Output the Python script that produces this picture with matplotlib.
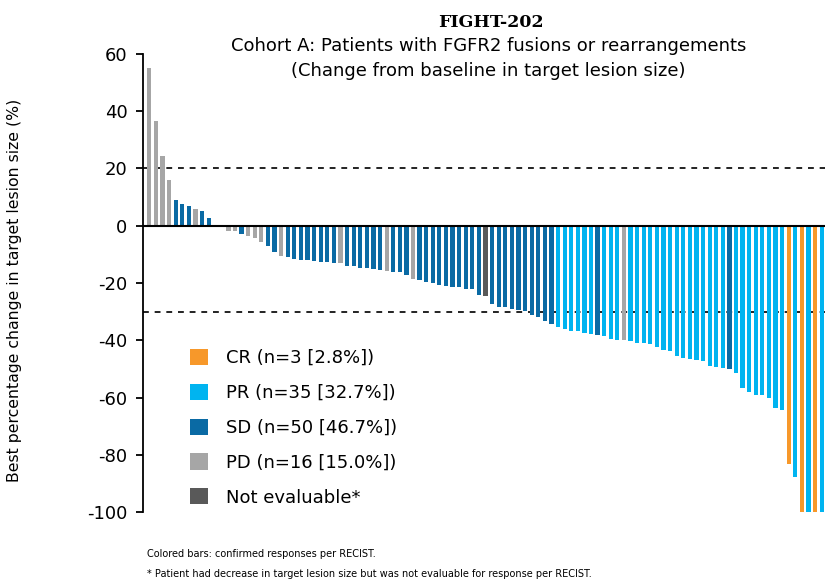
import numpy as np
import matplotlib
matplotlib.use("Agg")
import matplotlib.pyplot as plt
from matplotlib.patches import Patch

plt.rcParams["axes.unicode_minus"] = False

# best % change in target lesion size, one value per patient (sorted)
values = [55, 36.5, 24.5, 16, 9, 7.7, 7, 6, 5, 2.7,
          0, 0, -2, -2, -2.9, -3.4, -4.3, -5.5, -7.2, -9,
          -10.7, -11, -11.7, -11.8, -12, -12.4, -12.6, -12.8, -13, -13,
          -13.9, -13.9, -14.8, -14.8, -15, -15.6, -15.7, -16.2, -16.3, -17.3,
          -18.5, -19.1, -19.7, -19.9, -20.6, -21.1, -21.3, -21.5, -22, -22.2,
          -24.3, -24.6, -27.3, -28.3, -28.5, -29, -29.3, -29.9, -31.1, -31.7,
          -33.1, -34.2, -35.2, -36, -36.8, -36.9, -37.3, -37.8, -38.2, -38.5,
          -39.5, -39.8, -39.8, -40.3, -41, -41, -41.3, -42.4, -43.3, -43.6,
          -45.6, -46.2, -46.6, -47, -47.3, -48.8, -49.4, -49.7, -50.1, -51.5,
          -56.7, -57.9, -59, -59, -60.2, -63.5, -64.3, -83.3, -87.6, -100,
          -100, -100, -100]

response = ["PD", "PD", "PD", "PD", "SD", "SD", "SD", "PD", "SD", "SD",
            "SD", "SD", "PD", "PD", "SD", "PD", "PD", "PD", "SD", "SD",
            "PD", "SD", "SD", "SD", "SD", "SD", "SD", "SD", "SD", "PD",
            "SD", "SD", "SD", "SD", "SD", "SD", "PD", "SD", "SD", "SD",
            "PD", "SD", "SD", "SD", "SD", "SD", "SD", "SD", "SD", "SD",
            "SD", "NE", "SD", "SD", "SD", "SD", "SD", "SD", "SD", "SD",
            "SD", "SD", "PR", "PR", "PR", "PR", "PR", "PR", "SD", "PR",
            "PR", "PR", "PD", "PR", "PR", "PR", "PR", "PR", "PR", "PR",
            "PR", "PR", "PR", "PR", "PR", "PR", "PR", "PR", "SD", "PR",
            "PR", "PR", "PR", "PR", "PR", "PR", "PR", "CR", "PR", "CR",
            "PR", "CR", "PR"]

colors = {"CR": "#f7982a", "PR": "#00b4f0", "SD": "#0a6aa4",
          "PD": "#a6a6a6", "NE": "#595959"}
legend_labels = ["CR (n=3 [2.8%])", "PR (n=35 [32.7%])", "SD (n=50 [46.7%])",
                 "PD (n=16 [15.0%])", "Not evaluable*"]
legend_keys = ["CR", "PR", "SD", "PD", "NE"]

fig = plt.figure(figsize=(8.25, 5.8), dpi=100)
ax = fig.add_axes([0.173, 0.117, 0.827, 0.790])

x = np.arange(len(values))
ax.bar(x, values, width=0.64, color=[colors[r] for r in response], zorder=2)

ax.axhline(0, color="black", lw=1.5, zorder=3)
ax.axhline(20, color="#222222", lw=1.4, ls=(0, (3, 3)), zorder=1)
ax.axhline(-30, color="#222222", lw=1.4, ls=(0, (3, 3)), zorder=1)

ax.set_xlim(-1, len(values) - 0.5)
ax.set_ylim(-100, 60)
ax.set_yticks(range(-100, 61, 20))
ax.set_xticks([])
for s in ["top", "right", "bottom"]:
    ax.spines[s].set_visible(False)
ax.spines["left"].set_linewidth(1.3)
ax.tick_params(axis="y", direction="out", length=5, width=1.3, labelsize=13, pad=6)
ax.set_ylabel("Best percentage change in target lesion size (%)", fontsize=11.3)
ax.yaxis.set_label_coords(-0.177, 0.483)

fig.text(0.595, 0.962, "FIGHT-202", ha="center", va="center", fontsize=12.5,
         fontweight="bold", family="DejaVu Serif")
fig.text(0.592, 0.920, "Cohort A: Patients with FGFR2 fusions or rearrangements",
         ha="center", va="center", fontsize=13)
fig.text(0.592, 0.878, "(Change from baseline in target lesion size)",
         ha="center", va="center", fontsize=13)

handles = [Patch(facecolor=colors[k], edgecolor="none") for k in legend_keys]
ax.legend(handles, legend_labels, loc="upper left", bbox_to_anchor=(0.045, 0.392),
          frameon=False, fontsize=13, handlelength=1.0, handleheight=1.0,
          handletextpad=1.0, labelspacing=0.92)

fig.text(0.178, 0.040, "Colored bars: confirmed responses per RECIST.", fontsize=7)
fig.text(0.178, 0.006, "* Patient had decrease in target lesion size but was not evaluable for response per RECIST.",
         fontsize=7)

fig.savefig("out.png", dpi=100)
